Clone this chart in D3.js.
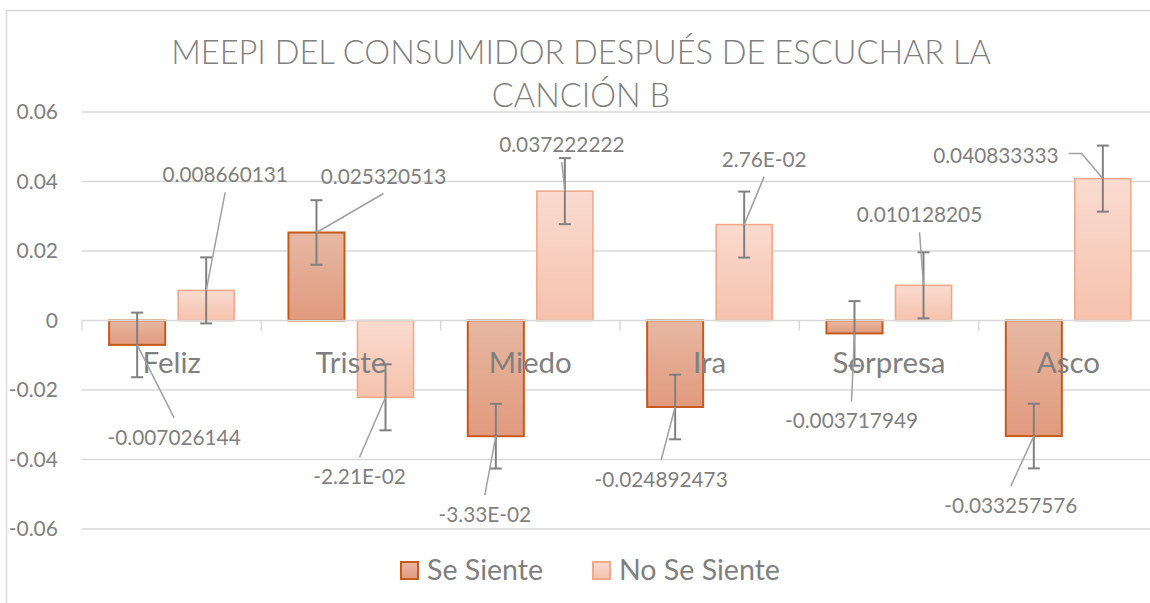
<!DOCTYPE html>
<head>
  <meta charset="utf-8">
  <script src="https://d3js.org/d3.v7.min.js"></script>
  <style>
    body { margin: 0; background: #fff; }
    text { font-family: Lato, "Open Sans", sans-serif; fill: #7f7f7f; }
    .title { font-weight: 300; }
  </style>
</head>
<body>
<script>

    var outerWidth = 1150,
      outerHeight = 603;

    // DATA
    var categories = ['Feliz', 'Triste', 'Miedo', 'Ira', 'Sorpresa', 'Asco'];
    var seriesNames = ['Se Siente', 'No Se Siente'];

    var seSiente = [-0.007026144, 0.025320513, -0.0333, -0.024892473, -0.003717949, -0.033257576];
    var noSeSiente = [0.008660131, -0.0221, 0.037222222, 0.0276, 0.010128205, 0.040833333];

    // error bar half-size
    var seSienteErr = [0.0093, 0.0093, 0.0093, 0.0093, 0.0093, 0.0093];
    var noSeSienteErr = [0.0095, 0.0095, 0.0095, 0.0095, 0.0095, 0.0095];

    // data label texts as shown
    var seSienteLabels = ['-0.007026144', '0.025320513', '-3.33E-02', '-0.024892473', '-0.003717949', '-0.033257576'];
    var noSeSienteLabels = ['0.008660131', '-2.21E-02', '0.037222222', '2.76E-02', '0.010128205', '0.040833333'];

    var yTicks = [-0.06, -0.04, -0.02, 0, 0.02, 0.04, 0.06];
    var titleLines = ['MEEPI DEL CONSUMIDOR DESPUÉS DE ESCUCHAR LA', 'CANCIÓN B'];

    // label placement (pixel offsets from bar end, moved by hand like in excel)
    var seLabelDx = [37, 67, -11, -14, -3, -23],
      seLabelDy = [100, -49, 86, 80, 95, 77];
    var noLabelDx = [19, -26, -3, 20, -4, -107],
      noLabelDy = [-108, 87, -39, -58, -63, -16];
    // leader line style: 'v' from top/bottom of the label, 's' from its side
    var seLeader = ['v', 'v', 'v', 'v', 'v', 'v'],
      noLeader = ['v', 'v', 'v', 'v', 'v', 's'];

    var margin = { top: 112, left: 82, right: -8, bottom: 74 };
    var width = outerWidth - margin.left - margin.right,
      height = outerHeight - margin.top - margin.bottom;

    var svg = d3.select('body').append('svg')
      .attr('width', outerWidth)
      .attr('height', outerHeight);

    // fit a font size so a sample string has the wanted width
    function fitSize(sample, target, cls) {
      var t = svg.append('text').attr('class', cls || null).style('font-size', '100px').text(sample);
      var w = t.node().getComputedTextLength();
      t.remove();
      return 100 * target / w;
    }

    var labelSize = fitSize('0.008660131', 125.5),
      tickSize = fitSize('0.06', 41.5),
      catSize = fitSize('Sorpresa', 113),
      legendSize = fitSize('No Se Siente', 161),
      titleSize = fitSize(titleLines[0], 820, 'title');

    // gradients for the bars
    var defs = svg.append('defs');
    function grad(id, c1, c2) {
      var gr = defs.append('linearGradient').attr('id', id)
        .attr('x1', 0).attr('y1', 0).attr('x2', 0).attr('y2', 1);
      gr.append('stop').attr('offset', '0%').attr('stop-color', c1);
      gr.append('stop').attr('offset', '100%').attr('stop-color', c2);
    }
    grad('gradDark', '#e7b8a3', '#e19a7e');
    grad('gradLight', '#fadbd0', '#f5c2ad');

    var fills = ['url(#gradDark)', 'url(#gradLight)'],
      strokes = ['#c65a1a', '#f0a98b'];

    // chart border
    svg.append('rect')
      .attr('x', 6.5).attr('y', 10.5)
      .attr('width', 1200).attr('height', 600)
      .attr('fill', 'none')
      .attr('stroke', '#d9d9d9')
      .attr('stroke-width', 1.5);

    // title
    svg.append('g').selectAll('text')
      .data(titleLines)
      .join('text')
      .attr('class', 'title')
      .attr('x', 581)
      .attr('y', function(d, i) { return 64 + i * 43; })
      .attr('text-anchor', 'middle')
      .style('font-size', titleSize + 'px')
      .style('fill', '#808080')
      .text(function(d) { return d; });

    var g = svg.append('g')
      .attr('transform', 'translate(' + margin.left + ' ' + margin.top + ')');

    var yScale = d3.scaleLinear()
      .domain([-0.06, 0.06])
      .range([height, 0]);

    var xScale = d3.scaleBand()
      .domain(categories)
      .range([0, width]);

    var xInner = d3.scaleBand()
      .domain(seriesNames)
      .range([0, xScale.bandwidth()])
      .paddingInner(0.188)
      .paddingOuter(0.393);

    // gridlines
    g.append('g').selectAll('line')
      .data(yTicks.filter(function(d) { return d !== 0; }))
      .join('line')
      .attr('x1', 0).attr('x2', width)
      .attr('y1', function(d) { return yScale(d); })
      .attr('y2', function(d) { return yScale(d); })
      .attr('stroke', '#d9d9d9')
      .attr('stroke-width', 1.5);

    // y axis labels
    var yAxis = d3.axisLeft(yScale)
      .tickValues(yTicks)
      .tickSize(0)
      .tickPadding(24)
      .tickFormat(function(d) { return d === 0 ? '0' : d.toFixed(2); });
    var yAxisContainer = g.append('g').call(yAxis);
    yAxisContainer.select('.domain').remove();
    yAxisContainer.selectAll('text')
      .style('font-size', tickSize + 'px')
      .style('font-family', 'Lato, sans-serif')
      .attr('fill', '#7f7f7f');

    // rows for both series
    var rows = [];
    categories.forEach(function(c, i) {
      rows.push({ cat: c, s: 0, v: seSiente[i], err: seSienteErr[i], label: seSienteLabels[i], dx: seLabelDx[i], dy: seLabelDy[i], lead: seLeader[i] });
      rows.push({ cat: c, s: 1, v: noSeSiente[i], err: noSeSienteErr[i], label: noSeSienteLabels[i], dx: noLabelDx[i], dy: noLabelDy[i], lead: noLeader[i] });
    });
    function cx(d) { return xScale(d.cat) + xInner(seriesNames[d.s]) + xInner.bandwidth() / 2; }

    // bars
    g.append('g').selectAll('rect')
      .data(rows)
      .join('rect')
      .attr('x', function(d) { return xScale(d.cat) + xInner(seriesNames[d.s]); })
      .attr('width', xInner.bandwidth())
      .attr('y', function(d) { return yScale(Math.max(0, d.v)); })
      .attr('height', function(d) { return Math.abs(yScale(d.v) - yScale(0)); })
      .attr('fill', function(d) { return fills[d.s]; })
      .attr('stroke', function(d) { return strokes[d.s]; })
      .attr('stroke-width', function(d) { return d.s === 0 ? 2 : 1.6; });

    // zero axis with category ticks
    g.append('line')
      .attr('x1', 0).attr('x2', width)
      .attr('y1', yScale(0)).attr('y2', yScale(0))
      .attr('stroke', '#d9d9d9').attr('stroke-width', 1.5);
    g.append('g').selectAll('line')
      .data(d3.range(categories.length + 1))
      .join('line')
      .attr('x1', function(i) { return i * xScale.step(); })
      .attr('x2', function(i) { return i * xScale.step(); })
      .attr('y1', yScale(0)).attr('y2', yScale(0) + 10)
      .attr('stroke', '#d9d9d9').attr('stroke-width', 1.5);

    // category labels
    g.append('g').selectAll('text')
      .data(categories)
      .join('text')
      .attr('x', function(d) { return xScale(d) + xScale.bandwidth() / 2; })
      .attr('y', yScale(0) + 52)
      .attr('text-anchor', 'middle')
      .style('font-size', catSize + 'px')
      .text(function(d) { return d; });

    // error bars
    var errG = g.append('g')
      .attr('stroke', '#808080')
      .attr('stroke-width', 2);
    rows.forEach(function(d) {
      var x = cx(d);
      errG.append('line')
        .attr('x1', x).attr('x2', x)
        .attr('y1', yScale(d.v + d.err)).attr('y2', yScale(d.v - d.err));
      [d.v + d.err, d.v - d.err].forEach(function(e) {
        errG.append('line')
          .attr('x1', x - 6).attr('x2', x + 6)
          .attr('y1', yScale(e)).attr('y2', yScale(e));
      });
    });

    // data labels with leader lines
    var labelG = g.append('g');
    rows.forEach(function(d) {
      var px = cx(d),
        py = yScale(d.v),
        lx = px + d.dx,
        ly = py + d.dy;
      var t = labelG.append('text')
        .attr('x', lx)
        .attr('y', ly)
        .attr('text-anchor', 'middle')
        .style('font-size', labelSize + 'px')
        .text(d.label);
      var w = t.node().getComputedTextLength();
      var pts;
      if (d.lead === 's') {
        var sx = lx + w / 2 + 10;
        pts = [[sx, ly - 9], [sx + 13, ly - 9], [px, py]];
      } else if (d.dy < 0) {
        pts = [[lx, ly + 10], [px, py]];
      } else {
        pts = [[lx, ly - 27], [px, py]];
      }
      labelG.append('path')
        .attr('d', d3.line()(pts))
        .attr('fill', 'none')
        .attr('stroke', '#a0a0a0')
        .attr('stroke-width', 1.5);
    });

    // legend
    var legend = svg.append('g');
    var legendX = [400, 592];
    seriesNames.forEach(function(name, i) {
      legend.append('rect')
        .attr('x', legendX[i] + 1).attr('y', 562)
        .attr('width', 17).attr('height', 17)
        .attr('fill', fills[i])
        .attr('stroke', strokes[i])
        .attr('stroke-width', 2);
      legend.append('text')
        .attr('x', legendX[i] + 27)
        .attr('y', 580)
        .style('font-size', legendSize + 'px')
        .text(name);
    });

</script>
</body>
